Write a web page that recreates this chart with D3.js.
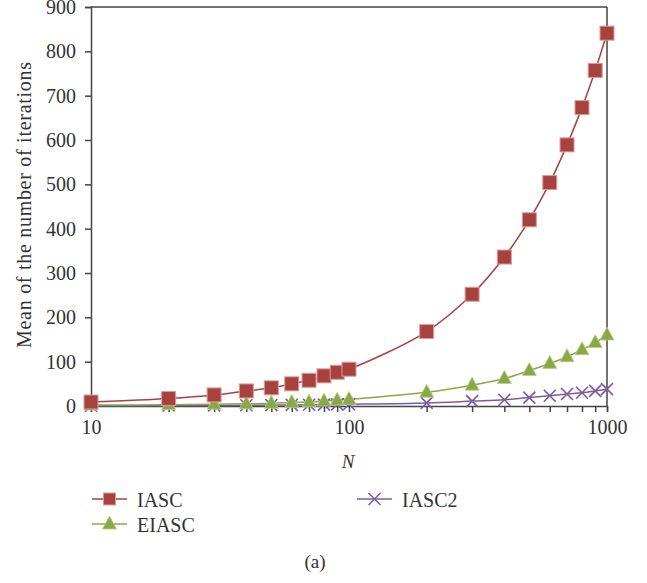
<!DOCTYPE html>
<html>
<head>
<meta charset="utf-8">
<script src="https://cdn.jsdelivr.net/npm/d3@7"></script>
<style>
  body { margin: 0; background: #fff; }
  text { font-family: "Liberation Serif", "DejaVu Serif", serif; fill: #333; }
</style>
</head>
<body>
<div id="chart-area"></div>
<script>
const nValues = [10, 20, 30, 40, 50, 60, 70, 80, 90, 100, 200, 300, 400, 500, 600, 700, 800, 900, 1000]
const iasc = [9, 17, 25, 34, 41, 50, 58, 68, 76, 83, 168, 252, 336, 420, 504, 589, 673, 757, 841]
const eiasc = [2, 3, 4, 5, 6, 8, 9, 11, 13, 15, 31, 47, 62, 80, 96, 111, 127, 143, 160]
const iasc2 = [0.5, 1, 1.3, 1.7, 2, 2.4, 2.8, 3.2, 3.6, 4, 7, 11, 14, 19, 23, 27, 30, 34, 38]
const yTicks = [0, 100, 200, 300, 400, 500, 600, 700, 800, 900]
const xMajor = [10, 100, 1000]

const MARGIN = { LEFT: 91, RIGHT: 40, TOP: 7, BOTTOM: 177 }
const WIDTH = 647 - MARGIN.LEFT - MARGIN.RIGHT
const HEIGHT = 583 - MARGIN.TOP - MARGIN.BOTTOM

const svg = d3.select("#chart-area").append("svg")
  .attr("width", 647)
  .attr("height", 583)

const g = svg.append("g")
  .attr("transform", `translate(${MARGIN.LEFT}, ${MARGIN.TOP})`)

const x = d3.scaleLog()
  .domain([10, 1000])
  .range([0, WIDTH])

const y = d3.scaleLinear()
  .domain([0, 900])
  .range([HEIGHT, 0])

const AXIS = "#444"

// frame (top + right)
g.append("line").attr("x1", 0).attr("x2", WIDTH).attr("y1", 0).attr("y2", 0)
  .attr("stroke", AXIS).attr("stroke-width", 1.5)
g.append("line").attr("x1", WIDTH).attr("x2", WIDTH).attr("y1", 0).attr("y2", HEIGHT)
  .attr("stroke", AXIS).attr("stroke-width", 1.5)

// y axis
const yAxis = g.append("g")
  .call(d3.axisLeft(y).tickValues(yTicks).tickSize(6).tickPadding(9))
yAxis.selectAll("path, line").attr("stroke", AXIS).attr("stroke-width", 1.5)
yAxis.selectAll("text").style("font-size", "20px").attr("fill", "#333")
  .style("font-family", "Liberation Serif")

// x axis
const minor = nValues.filter(d => !xMajor.includes(d))
const xAxis = g.append("g")
  .attr("transform", `translate(0, ${HEIGHT})`)
  .call(d3.axisBottom(x).tickValues(xMajor.concat(minor))
    .tickFormat(d => xMajor.includes(d) ? d : "")
    .tickSize(6).tickPadding(8))
xAxis.selectAll("path, line").attr("stroke", AXIS).attr("stroke-width", 1.5)
xAxis.selectAll("text").style("font-size", "20px").attr("fill", "#333")
  .style("font-family", "Liberation Serif")

// axis labels
g.append("text")
  .attr("transform", "rotate(-90)")
  .attr("x", -(205 - MARGIN.TOP))
  .attr("y", 31 - MARGIN.LEFT)
  .attr("text-anchor", "middle")
  .attr("textLength", 286)
  .attr("lengthAdjust", "spacing")
  .style("font-size", "20px")
  .text("Mean of the number of iterations")

g.append("text")
  .attr("x", WIDTH / 2 - 1)
  .attr("y", HEIGHT + 62)
  .attr("text-anchor", "middle")
  .style("font-size", "19px")
  .style("font-style", "italic")
  .text("N")

const series = [
  { name: "IASC", values: iasc, color: "#a8423f", edge: "#d99c9a", shape: "square" },
  { name: "EIASC", values: eiasc, color: "#8aa845", edge: "#b9cf8a", shape: "triangle" },
  { name: "IASC2", values: iasc2, color: "#7b5c9f", edge: "#7b5c9f", shape: "cross" }
]

const line = d3.line()
  .x(d => x(d.n))
  .y(d => y(d.v))
  .curve(d3.curveCatmullRom.alpha(0.5))

function drawMarker(sel, s) {
  if (s.shape === "square") {
    sel.append("rect")
      .attr("x", -7).attr("y", -7).attr("width", 14).attr("height", 14)
      .attr("fill", s.color).attr("stroke", s.edge).attr("stroke-width", 1)
  } else if (s.shape === "triangle") {
    sel.append("path")
      .attr("d", "M0,-8 L7,5 L-7,5 Z")
      .attr("fill", s.color).attr("stroke", s.edge).attr("stroke-width", 0.8)
  } else {
    sel.append("path")
      .attr("d", "M-6,-6 L6,6 M-6,6 L6,-6")
      .attr("stroke", s.color).attr("stroke-width", 1.6).attr("fill", "none")
  }
}

// draw from back to front: IASC2 first, then EIASC, then IASC
series.slice().reverse().forEach(s => {
  const pts = nValues.map((n, i) => ({ n: n, v: s.values[i] }))
  g.append("path")
    .datum(pts)
    .attr("d", line)
    .attr("fill", "none")
    .attr("stroke", s.color)
    .attr("stroke-width", 1.5)
})
series.slice().reverse().forEach(s => {
  const pts = nValues.map((n, i) => ({ n: n, v: s.values[i] }))
  g.selectAll(null)
    .data(pts)
    .enter().append("g")
    .attr("transform", d => `translate(${x(d.n)}, ${y(d.v)})`)
    .each(function () { drawMarker(d3.select(this), s) })
})

// legend
const legendPos = [
  { x: 92, y: 499 },
  { x: 92, y: 524 },
  { x: 357, y: 499 }
]
series.forEach((s, i) => {
  const lg = svg.append("g").attr("transform", `translate(${legendPos[i].x}, ${legendPos[i].y})`)
  lg.append("line").attr("x1", 0).attr("x2", 35).attr("y1", 0).attr("y2", 0)
    .attr("stroke", s.color).attr("stroke-width", 1.5)
  const m = lg.append("g").attr("transform", "translate(17.5, 0)")
  drawMarker(m, s)
  m.select("rect").attr("x", -6).attr("y", -6).attr("width", 12).attr("height", 12)
  lg.append("text")
    .attr("x", 45)
    .attr("y", 8)
    .style("font-size", "20px")
    .text(s.name)
})

svg.append("text")
  .attr("x", 315)
  .attr("y", 568)
  .attr("text-anchor", "middle")
  .style("font-size", "19px")
  .text("(a)")
</script>
</body>
</html>
